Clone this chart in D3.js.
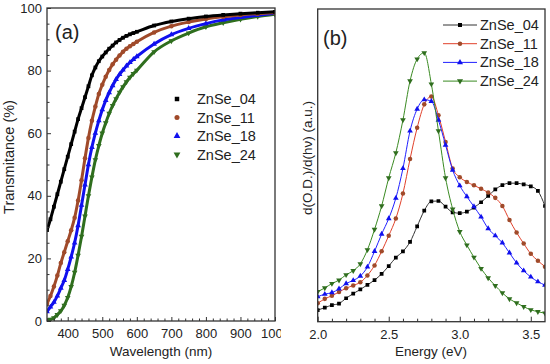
<!DOCTYPE html>
<html><head><meta charset="utf-8">
<script src="https://cdn.jsdelivr.net/npm/d3@7"></script>
<style>
html,body{margin:0;padding:0;background:#fff;}
svg{display:block;font-family:"Liberation Sans",Arial,sans-serif;}
</style></head>
<body>
<svg id="c" width="550" height="364"></svg>
<script>
// ---------- Panel (a): transmittance ----------
const seriesNames = ["ZnSe_04","ZnSe_11","ZnSe_18","ZnSe_24"];
const wavelength = [340,350,360,370,380,390,400,410,420,430,440,450,460,470,480,490,500,510,520,530,540,550,560,570,580,590,600,650,700,750,800,850,900,950,1000];
const trans04 = [29,32.5,36.5,40.5,44.5,48.5,52.5,56.5,60.5,64.5,68,71.5,75,78.5,81,83,84.5,85.8,87,88,89,89.8,90.5,91.1,91.6,92,92.4,94.4,95.7,96.6,97.3,97.8,98.2,98.5,98.8];
const trans11 = [5.5,8,11,14.5,18.5,22,25.5,29,33,38.5,45,52,58.5,64,68.5,72.5,75.5,78,80.2,82,83.5,84.8,86,87,87.8,88.5,89.2,92.2,94.2,95.5,96.5,97.2,97.8,98.2,98.5];
const trans18 = [3,4.5,6,8,10.5,13,16.5,20.5,25,30.5,37,43.5,50,55.5,60,64,67.5,70.5,73,75.2,77.2,78.8,80.2,81.5,82.6,83.6,84.5,88.5,91.5,93.5,95,96.2,97,97.7,98.3];
const trans24 = [0.3,0.5,1,2,3.2,5,7.5,11,15.5,21,27,33.5,40,46,51.5,56,60,63.3,66.3,68.8,71,73,74.8,76.4,77.8,79,80.1,86,89.5,92,94,95.3,96.4,97.3,98];
const xTicksA = [400,500,600,700,800,900,1000];
const yTicksA = [0,20,40,60,80,100];

// ---------- Panel (b): derivative ----------
const energy = [2.00,2.05,2.10,2.15,2.20,2.25,2.30,2.35,2.40,2.45,2.50,2.55,2.60,2.65,2.70,2.75,2.80,2.85,2.90,2.95,3.00,3.05,3.10,3.15,3.20,3.25,3.30,3.35,3.40,3.45,3.50,3.55,3.60];
const deriv04 = [3.7,4.5,5.3,5.8,7.5,9,10.3,11.8,13.3,15.3,17.8,20.5,22.5,25.5,30.5,35.5,38.5,38.6,36.8,35,34.7,35.2,36.5,38.2,40.2,42.3,43.7,44.3,44.3,43.9,43.3,41.8,37];
const deriv11 = [5.9,7.3,8.3,9.5,10.7,11.6,12.6,14.8,18,22.5,27.5,33,41,52,62,69.5,72,66,57.5,49,46.2,44.7,43.6,42.5,41.3,39.6,37,32.5,28.5,25,21.7,19.5,17.6];
const deriv18 = [8,8.8,9.3,10.5,12.2,13.2,14.6,17.5,22.5,28,33,39.5,49,61,68,71,70.5,64.5,56.5,48.5,43.5,40,36.8,33.5,29.8,27.5,25.2,22,18.8,16.3,14.3,12.8,11.7];
const deriv24 = [9.6,10.8,12.2,13.3,15,16.3,18.5,23,29.5,37,46,54,64.5,77,84,86,76,61,46,36,28.8,24.5,20.6,17,14,11.5,9.2,7.3,6,4.8,3.8,3.2,2.7];
const xTicksB = [2.0,2.5,3.0,3.5];

const markerColors = ["#000000","#a04a2a","#1010ee","#2f6e1e"];
const lineColors   = ["#333333","#e0402a","#2020ff","#3a8a22"];
const symbols = [d3.symbolSquare, d3.symbolCircle, d3.symbolTriangle, d3.symbolTriangle];
const rotations = [0,0,0,180];

const svg = d3.select("#c");
const frameColor = "#333";

function markerPath(i, size){ return d3.symbol(symbols[i], size)(); }

// ===== Panel (a) =====
const xA = d3.scaleLinear().domain([340,1000]).range([47,275]);
const yA = d3.scaleLinear().domain([0,100]).range([321,8]);
svg.append("defs").append("clipPath").attr("id","clipA")
  .append("rect").attr("x",0).attr("y",0).attr("width",281).attr("height",364);
svg.append("defs").append("clipPath").attr("id","plotA")
  .append("rect").attr("x",47).attr("y",8).attr("width",228).attr("height",313);
const gA = svg.append("g").attr("clip-path","url(#clipA)");

const transSeries = [trans04,trans11,trans18,trans24];
const pA = gA.append("g").attr("clip-path","url(#plotA)");
transSeries.slice().reverse().forEach((vals,ri)=>{
  const i = 3-ri;
  const data = wavelength.map((w,k)=>[w,vals[k]]);
  pA.append("path").datum(data)
    .attr("fill","none").attr("stroke",markerColors[i]).attr("stroke-width",3)
    .attr("d", d3.line().x(d=>xA(d[0])).y(d=>yA(d[1])).curve(d3.curveMonotoneX));
  pA.selectAll(null).data(data).enter().append("path")
    .attr("d", markerPath(i, i===1?16:14))
    .attr("fill", markerColors[i])
    .attr("transform", d=>`translate(${xA(d[0])},${yA(d[1])}) rotate(${rotations[i]})`);
});

// axes (a)
gA.append("g").attr("transform","translate(0,321)")
  .call(d3.axisBottom(xA).tickValues(xTicksA).tickSize(-4).tickPadding(8).tickFormat(d3.format("d")));
gA.append("g").attr("transform","translate(0,321)")
  .call(d3.axisBottom(xA).tickValues(d3.range(340,1000,20).filter(v=>v%100!==0)).tickSize(-2.5).tickFormat(""));
gA.append("g").attr("transform","translate(47,0)")
  .call(d3.axisLeft(yA).tickValues(yTicksA).tickSize(-4).tickPadding(5));
gA.append("g").attr("transform","translate(47,0)")
  .call(d3.axisLeft(yA).tickValues(d3.range(5,100,5).filter(v=>v%20!==0)).tickSize(-2.5).tickFormat(""));
gA.append("rect").attr("x",47).attr("y",8).attr("width",228).attr("height",313)
  .attr("fill","none").attr("stroke",frameColor).attr("stroke-width",1.3);

gA.append("text").attr("x",55).attr("y",39).attr("font-size",20).attr("fill","#222").text("(a)");
gA.append("text").attr("x",161).attr("y",356).attr("text-anchor","middle").attr("font-size",13.5).attr("fill","#222").text("Wavelength (nm)");
gA.append("text").attr("transform","translate(14,157) rotate(-90)").attr("text-anchor","middle").attr("font-size",14.5).attr("fill","#222").text("Transmitance (%)");

// legend (a)
const legA = gA.append("g");
seriesNames.forEach((n,i)=>{
  const y = 99 + i*18.5;
  legA.append("path").attr("d", markerPath(i, 20)).attr("fill", markerColors[i])
    .attr("transform",`translate(177,${y}) rotate(${rotations[i]})`);
  legA.append("text").attr("x",197).attr("y",y+5).attr("font-size",14.5).attr("fill","#222").text(n);
});

// ===== Panel (b) =====
const xB = d3.scaleLinear().domain([2.0,3.6]).range([317.7,545]);
const yB = d3.scaleLinear().domain([0,100]).range([321.7,9]);
svg.append("defs").append("clipPath").attr("id","plotB")
  .append("rect").attr("x",317.7).attr("y",9).attr("width",227.3).attr("height",312.7);
const gB = svg.append("g");
const pB = gB.append("g").attr("clip-path","url(#plotB)");
const derivSeries = [deriv04,deriv11,deriv18,deriv24];
derivSeries.forEach((vals,i)=>{
  const data = energy.map((e,k)=>[e,vals[k]]);
  pB.append("path").datum(data)
    .attr("fill","none").attr("stroke",lineColors[i]).attr("stroke-width",1)
    .attr("d", d3.line().x(d=>xB(d[0])).y(d=>yB(d[1])).curve(d3.curveMonotoneX));
  pB.selectAll(null).data(data).enter().append("path")
    .attr("d", markerPath(i, i===1?16:14))
    .attr("fill", markerColors[i])
    .attr("transform", d=>`translate(${xB(d[0])},${yB(d[1])}) rotate(${rotations[i]})`);
});

gB.append("g").attr("transform","translate(0,321.7)")
  .call(d3.axisBottom(xB).tickValues(xTicksB).tickSize(-5).tickPadding(8).tickFormat(d3.format(".1f")));
gB.append("g").attr("transform","translate(0,321.7)")
  .call(d3.axisBottom(xB).tickValues(d3.range(2.1,3.6,0.1).filter(v=>Math.abs(v*2-Math.round(v*2))>0.01)).tickSize(-3).tickFormat(""));
gB.append("rect").attr("x",317.7).attr("y",9).attr("width",227.3).attr("height",312.7)
  .attr("fill","none").attr("stroke",frameColor).attr("stroke-width",1.3);

gB.append("text").attr("x",323).attr("y",45).attr("font-size",20).attr("fill","#222").text("(b)");
gB.append("text").attr("x",431).attr("y",356).attr("text-anchor","middle").attr("font-size",13.5).attr("fill","#222").text("Energy (eV)");
gB.append("text").attr("transform","translate(312,158) rotate(-90)").attr("text-anchor","middle").attr("font-size",13.5).attr("fill","#222").text("d(O.D.)/d(h\u03BD)  (a.u.)");

const legB = gB.append("g");
seriesNames.forEach((n,i)=>{
  const y = 25 + i*18.7;
  legB.append("line").attr("x1",443).attr("x2",477).attr("y1",y).attr("y2",y)
    .attr("stroke",lineColors[i]).attr("stroke-width",1);
  legB.append("path").attr("d", markerPath(i, 16)).attr("fill", markerColors[i])
    .attr("transform",`translate(460,${y}) rotate(${rotations[i]})`);
  legB.append("text").attr("x",480).attr("y",y+5).attr("font-size",14.5).attr("fill","#222").text(n);
});

// style axes
svg.selectAll(".domain").remove();
svg.selectAll(".tick line").attr("stroke",frameColor).attr("stroke-width",1);
svg.selectAll(".tick text").attr("font-size",13).attr("fill","#222").attr("font-family","Liberation Sans, Arial, sans-serif");
</script>
</body></html>
